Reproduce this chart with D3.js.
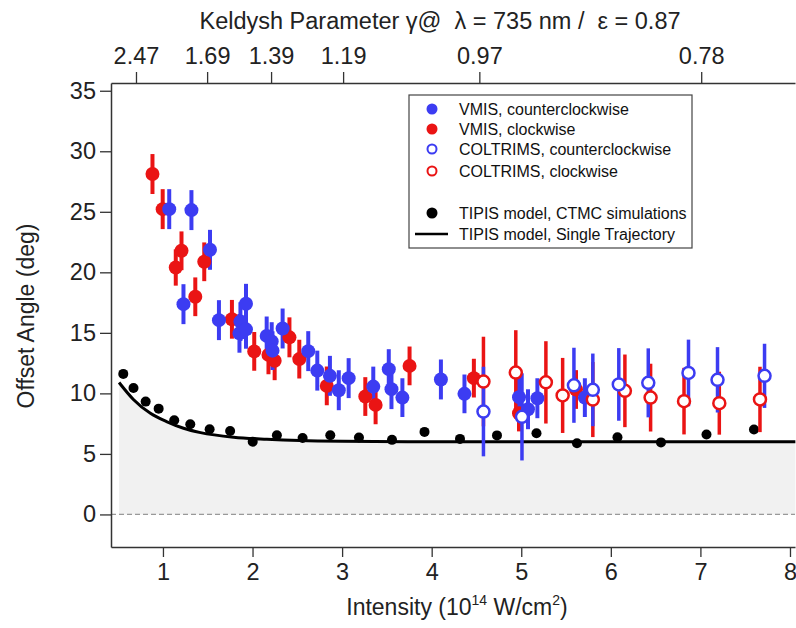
<!DOCTYPE html>
<html>
<head>
<meta charset="utf-8">
<script src="https://cdn.jsdelivr.net/npm/d3@7"></script>
<style>
  body { margin: 0; background: #fff; }
  svg { font-family: "Liberation Sans", sans-serif; }
</style>
</head>
<body>
<svg width="796" height="628"></svg>
<script>
// [intensity, offset angle, error]
const vmisCcw = [
  [1.07, 25.22, 1.65], [1.318, 25.14, 1.65], [1.525, 21.86, 1.65], [1.229, 17.37, 1.65],
  [1.625, 16.05, 1.65], [1.927, 17.4, 1.65], [1.865, 15.93, 1.6], [1.854, 14.96, 1.6],
  [1.927, 15.29, 1.6], [2.158, 14.75, 1.6], [2.214, 14.28, 1.6], [2.223, 13.53, 1.6],
  [2.336, 15.36, 1.65], [2.622, 13.49, 1.65], [2.723, 11.88, 1.65], [2.864, 11.45, 1.65],
  [2.963, 10.26, 1.65], [3.073, 11.26, 1.65], [3.348, 10.56, 1.65], [3.521, 12.0, 1.65],
  [3.551, 10.35, 1.65], [3.673, 9.65, 1.6], [4.103, 11.15, 1.65], [4.366, 9.96, 1.6],
  [4.975, 9.69, 1.8], [5.075, 8.69, 1.65], [5.18, 9.6, 1.65], [5.71, 9.65, 1.6]
];
const vmisCw = [
  [0.883, 28.12, 1.65], [0.997, 25.22, 1.65], [1.207, 21.78, 1.6], [1.143, 20.4, 1.5],
  [1.361, 17.98, 1.6], [1.461, 20.87, 1.6], [1.77, 16.12, 1.6], [2.019, 13.47, 1.6],
  [2.178, 13.18, 1.6], [2.247, 12.69, 1.6], [2.412, 14.63, 1.65], [2.522, 12.83, 1.6],
  [2.829, 10.62, 1.6], [3.259, 9.74, 1.6], [3.374, 9.05, 1.6], [3.753, 12.27, 1.6],
  [4.471, 11.26, 1.6], [4.975, 8.36, 1.5], [5.611, 10.32, 1.6]
];
const coltrimsCcw = [
  [4.578, 8.5, 3.7], [5.008, 8.06, 3.6], [5.588, 10.67, 3.1], [5.799, 10.29, 3.0],
  [6.089, 10.74, 3.0], [6.418, 10.87, 2.85], [6.867, 11.69, 2.75], [7.191, 11.12, 2.7],
  [7.716, 11.45, 2.65]
];
const coltrimsCw = [
  [4.578, 10.98, 3.7], [4.939, 11.72, 3.5], [5.275, 10.91, 3.4], [5.462, 9.83, 3.1],
  [5.799, 9.49, 3.1], [6.157, 10.21, 3.0], [6.444, 9.65, 2.8], [6.817, 9.36, 2.75],
  [7.211, 9.19, 2.6], [7.665, 9.5, 2.7]
];
const ctmc = [
  [0.557, 11.61], [0.671, 10.45], [0.807, 9.32], [0.952, 8.74], [1.126, 7.78], [1.305, 7.45],
  [1.521, 7.03], [1.75, 6.89], [2.002, 6.0], [2.272, 6.54], [2.559, 6.31], [2.868, 6.54],
  [3.188, 6.36], [3.557, 6.16], [3.92, 6.82], [4.316, 6.24], [4.729, 6.53], [5.17, 6.71],
  [5.622, 5.88], [6.074, 6.38], [6.56, 5.95], [7.068, 6.61], [7.598, 7.02]
];
const singleTrajectory = [
  [0.51, 10.9], [0.67, 9.5], [0.86, 8.35], [1.04, 7.67], [1.23, 7.12], [1.42, 6.76],
  [1.79, 6.38], [2.16, 6.21], [2.53, 6.1], [3.0, 6.04], [4.0, 6.0], [8.06, 6.0]
];
const intensityTicks = [1, 2, 3, 4, 5, 6, 7, 8];
const angleTicks = [0, 5, 10, 15, 20, 25, 30, 35];
const keldyshTicks = [2.47, 1.69, 1.39, 1.19, 0.97, 0.78];
const keldyshConst = 2.065; // gamma * sqrt(I)

const blue = "#3c3cf2";
const red = "#ea1414";

const legendItems = [
  { label: "VMIS, counterclockwise", type: "filled", color: blue },
  { label: "VMIS, clockwise", type: "filled", color: red },
  { label: "COLTRIMS, counterclockwise", type: "open", color: blue },
  { label: "COLTRIMS, clockwise", type: "open", color: red },
  { label: "", type: "none" },
  { label: "TIPIS model, CTMC simulations", type: "dot", color: "#000" },
  { label: "TIPIS model, Single Trajectory", type: "line", color: "#000" }
];

const svg = d3.select("svg");
const margin = { left: 111, top: 83, right: 1, bottom: 81 };
const chartWidth = 796 - margin.left - margin.right;
const chartHeight = 628 - margin.top - margin.bottom;

const chartGroup = svg.append("g")
  .attr("transform", `translate(${margin.left}, ${margin.top})`);

const xScaler = d3.scaleLinear().domain([0.42, 8.056]).range([0, chartWidth]);
const yScaler = d3.scaleLinear().domain([-2.69, 35.64]).range([chartHeight, 0]);

// shaded area under the single trajectory curve
chartGroup.append("path")
  .datum(singleTrajectory)
  .attr("fill", "#f1f1f1")
  .attr("d", d3.area()
    .x(d => xScaler(d[0]))
    .y0(yScaler(0))
    .y1(d => yScaler(d[1]))
    .curve(d3.curveMonotoneX));

// zero line
chartGroup.append("line")
  .attr("x1", 0).attr("x2", chartWidth)
  .attr("y1", yScaler(0)).attr("y2", yScaler(0))
  .attr("stroke", "#999").attr("stroke-width", 1.2)
  .attr("stroke-dasharray", "5,3");

// axes
const axisStyle = g => {
  g.selectAll("path").attr("stroke", "#333").attr("stroke-width", 1.5);
  g.selectAll("line").attr("stroke", "#333").attr("stroke-width", 1.3);
  g.selectAll("text").attr("fill", "#222").style("font-size", "23.5px")
    .style("font-family", "'Liberation Sans', sans-serif");
};

chartGroup.append("g")
  .call(d3.axisLeft(yScaler).tickValues(angleTicks).tickSize(11).tickSizeOuter(0).tickPadding(4))
  .call(axisStyle);

chartGroup.append("g")
  .attr("transform", `translate(0, ${chartHeight})`)
  .call(d3.axisBottom(xScaler).tickValues(intensityTicks).tickSize(10).tickSizeOuter(0).tickPadding(6))
  .call(axisStyle);

chartGroup.append("g")
  .call(d3.axisTop(xScaler)
    .tickValues(keldyshTicks.map(g => (keldyshConst / g) ** 2))
    .tickFormat((d, i) => keldyshTicks[i].toFixed(2))
    .tickSize(11).tickSizeOuter(0).tickPadding(8))
  .call(axisStyle);

// single trajectory curve
chartGroup.append("path")
  .datum(singleTrajectory)
  .attr("fill", "none")
  .attr("stroke", "#000")
  .attr("stroke-width", 3)
  .attr("d", d3.line()
    .x(d => xScaler(d[0]))
    .y(d => yScaler(d[1]))
    .curve(d3.curveMonotoneX));

// CTMC dots
chartGroup.append("g")
  .selectAll("circle")
  .data(ctmc)
  .join("circle")
  .attr("cx", d => xScaler(d[0]))
  .attr("cy", d => yScaler(d[1]))
  .attr("r", 5)
  .attr("fill", "#000");

// error bars first, markers on top
const series = [
  { data: vmisCw, color: red, open: false },
  { data: vmisCcw, color: blue, open: false },
  { data: coltrimsCw, color: red, open: true },
  { data: coltrimsCcw, color: blue, open: true }
];

series.forEach(s => {
  chartGroup.append("g")
    .selectAll("line")
    .data(s.data)
    .join("line")
    .attr("x1", d => xScaler(d[0]))
    .attr("x2", d => xScaler(d[0]))
    .attr("y1", d => yScaler(d[1] - d[2]))
    .attr("y2", d => yScaler(d[1] + d[2]))
    .attr("stroke", s.color)
    .attr("stroke-width", s.open ? 3.5 : 4);
});

series.forEach(s => {
  chartGroup.append("g")
    .selectAll("circle")
    .data(s.data)
    .join("circle")
    .attr("cx", d => xScaler(d[0]))
    .attr("cy", d => yScaler(d[1]))
    .attr("r", s.open ? 6 : 7)
    .attr("fill", s.open ? "#fff" : s.color)
    .attr("stroke", s.color)
    .attr("stroke-width", s.open ? 2.5 : 0);
});

// legend
const legend = svg.append("g").attr("transform", "translate(409, 95)");
legend.append("rect")
  .attr("width", 283).attr("height", 153)
  .attr("fill", "#fff").attr("stroke", "#444").attr("stroke-width", 1.2);

const rowY = [14, 34, 54, 76, 97, 118, 139];
legendItems.forEach((item, i) => {
  const row = legend.append("g").attr("transform", `translate(0, ${rowY[i]})`);
  if (item.type === "filled" || item.type === "dot") {
    row.append("circle").attr("cx", 23).attr("r", 5.5).attr("fill", item.color);
  } else if (item.type === "open") {
    row.append("circle").attr("cx", 23).attr("r", 4.5).attr("fill", "#fff")
      .attr("stroke", item.color).attr("stroke-width", 2);
  } else if (item.type === "line") {
    row.append("line").attr("x1", 6).attr("x2", 39)
      .attr("stroke", item.color).attr("stroke-width", 2.5);
  }
  row.append("text")
    .attr("x", 50).attr("dy", "0.35em")
    .style("font-size", "16px")
    .attr("fill", "#111")
    .text(item.label);
});

// titles
svg.append("text")
  .attr("x", 440).attr("y", 29)
  .attr("text-anchor", "middle")
  .style("font-size", "23.5px")
  .attr("fill", "#222")
  .attr("xml:space", "preserve")
  .text("Keldysh Parameter \u03b3@  \u03bb = 735 nm /  \u03b5 = 0.87");

const xTitle = svg.append("text")
  .attr("x", 457).attr("y", 615)
  .attr("text-anchor", "middle")
  .style("font-size", "23px")
  .attr("fill", "#222");
xTitle.append("tspan").text("Intensity (10");
xTitle.append("tspan").attr("dy", -10).style("font-size", "14px").text("14");
xTitle.append("tspan").attr("dy", 10).text(" W/cm");
xTitle.append("tspan").attr("dy", -10).style("font-size", "14px").text("2");
xTitle.append("tspan").attr("dy", 10).text(")");

svg.append("text")
  .attr("transform", "translate(34, 316) rotate(-90)")
  .attr("text-anchor", "middle")
  .style("font-size", "23px")
  .attr("fill", "#222")
  .text("Offset Angle (deg)");
</script>
</body>
</html>
